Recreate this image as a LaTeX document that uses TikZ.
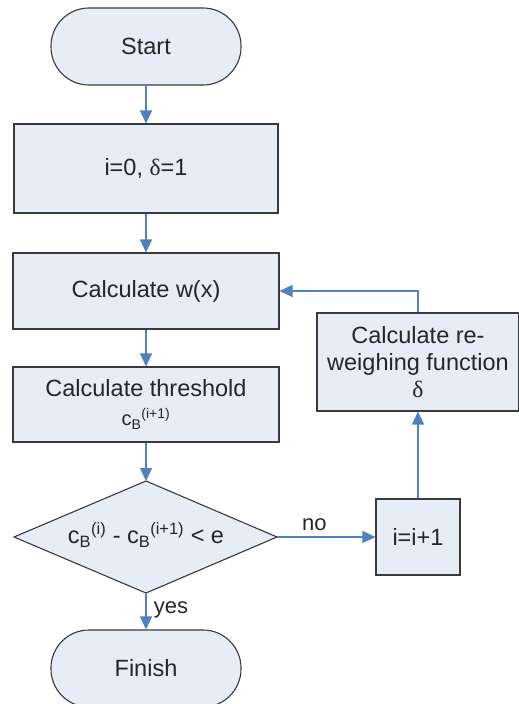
\documentclass[tikz,border=0pt]{standalone}
\usepackage{fontspec}
\setmainfont{Liberation Sans}
\newfontfamily\symfont{Liberation Serif}
\usetikzlibrary{arrows.meta}
\definecolor{boxfill}{HTML}{E6EDF7}
\definecolor{boxline}{HTML}{3A3A3A}
\definecolor{arrowblue}{HTML}{4F81BD}
\newcommand{\dlt}{{\symfont δ}}
\newcommand{\cb}[1]{c\textsubscript{B}\textsuperscript{#1}}
\begin{document}
\begin{tikzpicture}[x=1pt,y=-1pt,
  every node/.style={font=\fontsize{23.5}{27}\selectfont, text=black!85},
  procbox/.style={draw=boxline, fill=boxfill, line width=1.1pt, rectangle, align=center, inner sep=0pt},
  termbox/.style={procbox, rounded corners=38pt},
  decshape/.style={draw=boxline, fill=boxfill, line width=1.1pt, line join=miter},
  flow/.style={draw=arrowblue, line width=1.2pt, -{Triangle[length=13pt,width=12pt]}},
  lbl/.style={font=\fontsize{22}{26}\selectfont}
]
\useasboundingbox (0,0) rectangle (519,704);
\clip (0,0) rectangle (519,704);
\fill[white] (0,0) rectangle (519,704);

\node[termbox, minimum width=190pt, minimum height=77pt] (start) at (146,46.5) {Start};
\node[procbox, minimum width=264pt, minimum height=89pt] (init) at (146,168.5) {i=0, \dlt=1};
\node[procbox, minimum width=266pt, minimum height=76pt] (calcw) at (146,291) {Calculate w(x)};
\node[procbox, minimum width=266pt, minimum height=75pt] (thr) at (146,404.5) {Calculate threshold\\[2pt]{\fontsize{20}{22}\selectfont\cb{(i+1)}}};

\coordinate (dtop) at (146,481);
\coordinate (dbot) at (146,593);
\coordinate (dleft) at (14,537);
\coordinate (dright) at (277,537);
\path[decshape] (dtop) -- (dright) -- (dbot) -- (dleft) -- cycle;
\node (dectext) at (146,535) {\cb{(i)} - \cb{(i+1)} {\textless} e};

\node[procbox, minimum width=84pt, minimum height=76pt] (inc) at (418,537) {i=i+1};
\node[procbox, minimum width=202pt, minimum height=98pt] (rew) at (418,362) {Calculate re-\\weighing function\\\dlt};
\node[termbox, minimum width=190pt, minimum height=77pt] (finish) at (146,668.5) {Finish};

\draw[flow] (start) -- (init);
\draw[flow] (init) -- (calcw);
\draw[flow] (calcw) -- (thr);
\draw[flow] (thr) -- (dtop);
\draw[flow] (dbot) -- node[lbl, right, pos=0.45, xshift=4pt] {yes} (finish);
\draw[flow] (dright) -- node[lbl, above, pos=0.38, yshift=2pt] {no} (inc);
\draw[flow] (inc) -- (rew);
\draw[flow] (rew.north) |- (calcw.east);
\end{tikzpicture}
\end{document}
